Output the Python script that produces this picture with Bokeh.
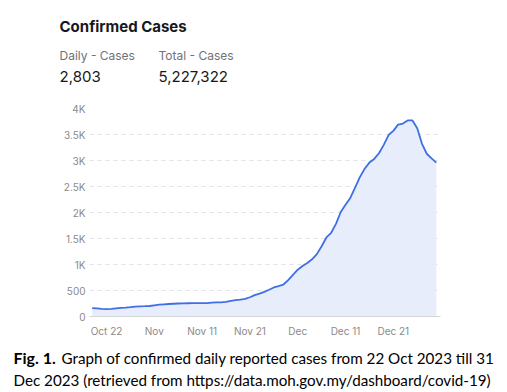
from bokeh.plotting import figure
from bokeh.models import FixedTicker, ColumnDataSource, Range1d
from bokeh.layouts import column, row
from bokeh.core.properties import value
from bokeh.embed import file_html
from bokeh.resources import INLINE

# Day index 0 = 19 Oct 2023
days = list(range(73))
cases = [160, 155, 148, 143, 145, 155, 165, 172, 180, 190,
         195, 198, 202, 215, 228, 235, 240, 245, 250, 252,
         255, 257, 258, 258, 257, 265, 270, 270, 280, 300,
         315, 325, 340, 370, 410, 440, 475, 515, 558, 585,
         615, 700, 800, 900, 970, 1030, 1100, 1200, 1350, 1520,
         1610, 1780, 2010, 2150, 2280, 2480, 2680, 2840, 2960, 3030,
         3140, 3300, 3490, 3570, 3690, 3710, 3770, 3770, 3620, 3320,
         3130, 3040, 2960]
x_ticks = [3, 13, 23, 33, 43, 53, 63]
x_tick_labels = ["Oct 22", "Nov", "Nov 11", "Nov 21", "Dec", "Dec 11", "Dec 21"]
y_ticks = [0, 500, 1000, 1500, 2000, 2500, 3000, 3500, 4000]
y_tick_labels = ["0", "500", "1K", "1.5K", "2K", "2.5K", "3K", "3.5K", "4K"]

title_text = "Confirmed Cases"
daily_label, daily_value = "Daily - Cases", "2,803"
total_label, total_value = "Total - Cases", "5,227,322"
caption_bold = "Fig. 1."
caption_1 = "Graph of confirmed daily reported cases from 22 Oct 2023 till 31"
caption_2 = "Dec 2023 (retrieved from https://data.moh.gov.my/dashboard/covid-19)"

W = 500


def text_fig(h):
    f = figure(width=W, height=h, output_backend="svg", toolbar_location=None,
               x_range=Range1d(0, W), y_range=Range1d(h, 0),
               x_axis_location=None, y_axis_location=None,
               min_border=0, outline_line_color=None)
    f.grid.visible = False
    return f


def put(f, x, y, text, size, color, font="Inter", style="normal"):
    f.text(x=[x], y=[y], text=[text], text_font=value(font),
           text_font_size=value(size), text_color=color,
           text_font_style=style, text_baseline="alphabetic", text_align="left")


# header
head = text_fig(100)
put(head, 59, 26, title_text, "15px", "#18181b", style="bold")
put(head, 59, 55, daily_label, "12px", "#71717a")
put(head, 158, 55, total_label, "12px", "#71717a")
put(head, 59, 76, daily_value, "15px", "#18181b")
put(head, 158, 76, total_value, "15px", "#18181b")

# chart
src = ColumnDataSource(dict(x=days, y=cases, y0=[0] * len(days)))
p = figure(width=W, height=242, output_backend="svg", toolbar_location=None,
           x_range=Range1d(-0.56, 72.87), y_range=Range1d(0, 4000),
           min_border_left=89, min_border_right=60, min_border_top=8,
           min_border_bottom=26)
p.outline_line_color = None
p.varea(x="x", y1="y0", y2="y", source=src, fill_color="#e8edfb")
p.line(x="x", y="y", source=src, line_color="#3f6fe4", line_width=1.8)

p.xgrid.grid_line_color = None
p.ygrid.grid_line_color = "#e2e3ea"
p.ygrid.grid_line_dash = "4 4"
p.ygrid.ticker = FixedTicker(ticks=y_ticks)

p.xaxis.ticker = FixedTicker(ticks=x_ticks)
p.xaxis.major_label_overrides = {t: l for t, l in zip(x_ticks, x_tick_labels)}
p.yaxis.ticker = FixedTicker(ticks=y_ticks)
p.yaxis.major_label_overrides = {t: l for t, l in zip(y_ticks, y_tick_labels)}
for ax in (p.xaxis, p.yaxis):
    ax.major_tick_line_color = None
    ax.minor_tick_line_color = None
    ax.major_tick_out = 0
    ax.major_tick_in = 0
    ax.minor_tick_out = 0
    ax.major_label_text_font = "Inter"
    ax.major_label_text_font_size = "10px"
    ax.major_label_text_color = "#8a8a8a"
p.yaxis.axis_line_color = None
p.yaxis.major_label_standoff = 4
p.xaxis.axis_line_color = "#d4d6dc"
p.xaxis.major_label_standoff = 8

# caption
cap = text_fig(48)
put(cap, 13, 15, caption_bold, "16px", "#000000", font="Lato", style="bold")
put(cap, 61, 15, caption_1, "15.2px", "#000000", font="Lato")
put(cap, 13, 37, caption_2, "15.2px", "#000000", font="Lato")

layout = column(row(head), row(p), row(cap), spacing=0)
open("out.html", "w").write(file_html(layout, INLINE))
